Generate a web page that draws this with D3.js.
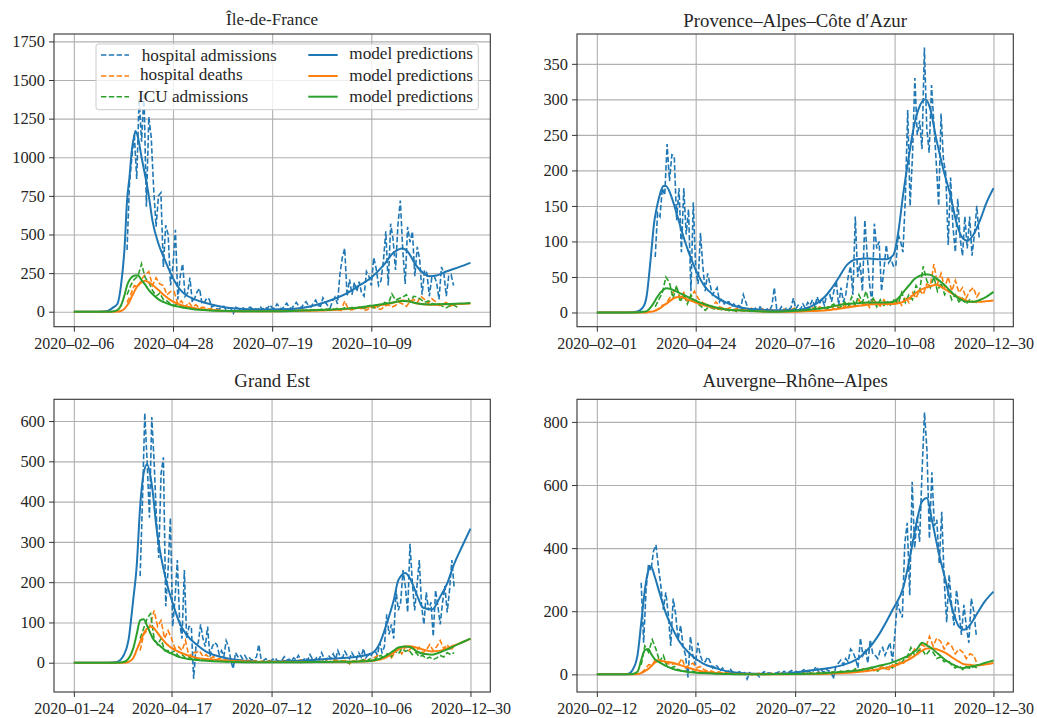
<!DOCTYPE html>
<html><head><meta charset="utf-8">
<script src="https://d3js.org/d3.v7.min.js"></script>
<style>
html,body{margin:0;padding:0;background:#fff}
svg{display:block}
text{font-family:"Liberation Serif",serif;fill:#262626}
</style></head><body><div id="c"></div>
<script>
// ---------- Île-de-France ----------
const idfTitle="Île-de-France";
const idfTicks=["2020-02-06","2020-04-28","2020-07-19","2020-10-09"];
const idfDomain=["2020-02-06","2020-12-30"];
const idfY=[-97,1798];
const idfYTicks=[0,250,500,750,1000,1250,1500,1750];
const idfObsStart="2020-03-21";
const idfAdm=[400,830,1000,1150,860,1380,1100,1420,680,1260,1130,800,550,750,770,290,560,500,170,300,530,80,230,310,100,120,220,60,90,130,150,50,60,90,80,30,
40,20,15,30,35,10,25,20,-10,30,20,15,25,10,25,30,15,20,10,35,15,30,20,45,25,20,50,30,15,35,55,30,20,40,60,35,25,50,65,40,30,55,75,40,35,90,60,40,25,70,95,50,
240,350,410,100,210,110,190,130,195,120,100,260,230,170,350,280,170,200,330,520,170,570,470,270,560,720,400,180,550,450,520,230,420,340,110,270,250,100,220,230,190,80,290,250,100,230,240,170];
const idfDeaths=[60,110,170,160,210,240,260,170,220,180,170,110,130,130,50,70,30,60,30,45,25,30,15,20,10,12,8,5,8,4,6,3,5,4,3,5,2,4,6,3,5,4,6,3,7,5,8,4,9,6,5,10,7,12,6,15,8,14,10,8,70,15,12,20,25,15,10,25,30,20,15,35,45,30,40,60,50,35,65,80,60,100,80,55,85,65,40,50,60,35,45,30];
const idfIcu=[110,170,210,230,310,220,190,140,100,120,80,70,50,40,50,30,25,30,15,20,15,12,10,8,10,8,5,6,4,5,3,5,2,4,3,5,4,6,3,5,4,6,8,5,9,7,10,6,12,8,14,10,16,12,18,14,20,15,22,18,25,18,28,20,30,22,26,35,25,30,45,60,50,115,75,85,95,110,65,100,95,80,60,70,55,45,50,35,25,40,45,30];
const idfModelDays=[0,20,28,32,36,39,42,44,46,48,50,51,53,56,59,62,65,70,75,80,85,90,100,110,120,140,160,180,209,226,236,245,256,264,272,276,283,289,294,300,308,319,328];
const idfModelAdm=[0,0,5,25,50,170,420,720,870,1050,1140,1170,1130,1000,880,750,590,440,340,250,175,125,80,55,35,18,15,18,65,120,170,215,300,380,410,390,300,250,230,235,260,290,317];
const idfModelDeaths=[0,0,0,0,1,5,20,40,65,100,130,145,170,190,200,190,175,140,105,75,55,40,22,12,7,3,3,5,10,18,25,33,45,58,72,70,55,48,45,45,48,50,53];
const idfModelIcu=[0,0,0,2,10,40,110,170,205,225,233,235,235,205,175,140,115,80,60,45,35,27,15,10,6,3,3,5,12,20,28,38,50,60,70,68,55,48,47,48,50,53,57];

// ---------- Provence–Alpes–Côte d′Azur ----------
const pacaTitle="Provence–Alpes–Côte d′Azur";
const pacaTicks=["2020-02-01","2020-04-24","2020-07-16","2020-10-08","2020-12-30"];
const pacaDomain=["2020-02-01","2020-12-30"];
const pacaY=[-20,392];
const pacaYTicks=[0,50,100,150,200,250,300,350];
const pacaObsStart="2020-03-21";
const pacaAdm=[78,140,135,175,165,237,185,222,220,130,175,85,175,110,145,30,155,60,40,112,65,30,55,40,25,30,35,15,20,12,15,15,8,12,8,10,8,25,15,5,4,
3,6,2,8,4,3,5,2,10,35,5,3,8,2,6,4,7,20,5,10,4,12,6,14,10,18,8,22,12,20,10,25,30,15,30,45,10,35,15,25,50,65,25,135,50,70,30,130,80,40,10,125,90,100,30,60,95,70,75,65,65,110,100,85,160,285,150,220,330,250,270,230,373,260,225,320,265,210,150,280,215,195,95,190,120,85,160,105,80,135,90,135,80,110,150,105];
const pacaDeaths=[3,5,10,12,20,28,35,20,28,15,22,30,20,15,12,10,8,15,8,6,5,7,4,6,3,5,4,6,2,3,5,2,4,3,2,3,5,2,4,6,3,2,5,4,7,3,8,5,6,10,5,8,12,8,14,6,12,18,10,15,7,20,12,9,18,11,14,12,18,10,22,14,28,20,32,25,40,38,68,40,55,35,50,30,45,28,35,20,30,35,22,30];
const pacaIcu=[8,18,28,50,42,20,38,15,25,12,25,15,12,8,3,8,6,4,5,3,4,2,3,1,3,2,4,1,2,3,1,2,1,2,2,3,1,4,2,5,3,2,4,6,3,8,5,7,4,9,12,6,8,15,8,22,10,25,14,30,12,20,8,18,10,15,9,20,12,28,14,25,18,38,30,65,45,35,50,30,42,25,32,18,25,15,20,12,18,15,14];
const pacaModelDays=[0,25,33,39,42,44,46,48,50,52,54,56,58,62,66,70,75,80,85,90,100,110,120,130,150,165,179,193,202,210,218,227,235,243,249,253,257,262,266,270,276,280,285,291,297,302,307,311,316,322,327,333];
const pacaModelAdm=[0,0,1,8,25,55,90,125,145,160,172,178,178,166,145,122,95,72,53,38,22,13,7,5,3,3,8,25,46,67,75,76,75,75,81,112,164,220,260,286,300,286,244,201,164,126,105,101,109,131,154,175];
const pacaModelDeaths=[0,0,0,0,0,1,1,2,3,5,7,10,12,17,21,22,19,16,13,10,6,4,3,2,1,1,2,3,5,7,9,11,12,12,12,13,15,20,25,30,35,37,39,34,28,23,19,16,15,15,16,17];
const pacaModelIcu=[0,0,0,1,2,5,9,14,20,25,29,32,34,33,30,27,23,19,15,12,7,4,3,2,1,2,4,7,10,12,13,14,14,14,15,20,28,38,46,51,54,53,48,40,30,22,17,15,15,18,22,29];

// ---------- Grand Est ----------
const geTitle="Grand Est";
const geTicks=["2020-01-24","2020-04-17","2020-07-12","2020-10-06","2020-12-30"];
const geDomain=["2020-01-24","2020-12-30"];
const geY=[-72.7,654];
const geYTicks=[0,100,200,300,400,500,600];
const geObsStart="2020-03-21";
const geAdm=[215,400,620,500,360,610,500,360,260,470,510,140,230,360,90,160,255,100,60,230,60,90,90,-40,40,50,95,60,40,90,15,40,50,45,20,30,15,55,40,5,-15,25,15,20,10,18,8,12,6,10,14,
45,8,5,10,6,4,8,12,5,3,7,15,6,9,4,12,7,18,8,5,13,6,20,10,4,15,8,25,12,6,18,10,22,9,
30,15,12,28,18,10,25,15,8,25,14,35,12,20,15,25,30,18,50,25,40,120,70,95,60,180,130,150,230,190,125,295,200,130,190,255,140,95,175,130,150,65,180,140,95,150,190,125,180,255,185];
const geDeaths=[30,70,80,95,130,90,105,60,80,60,35,40,30,55,15,25,25,30,15,20,10,15,8,12,6,10,5,8,4,7,3,6,2,5,3,4,2,5,3,4,2,6,3,5,2,4,7,3,5,2,8,4,3,6,2,5,7,3,4,6,-3,5,3,2,6,10,4,12,18,8,15,22,12,25,35,22,40,30,42,28,38,24,32,45,30,40,55,35,45,30,42];
const geIcu=[60,85,110,122,60,45,60,30,30,25,30,15,20,12,15,8,12,6,10,5,7,4,6,3,5,2,4,3,5,2,3,4,2,3,1,3,2,4,1,3,2,3,1,4,2,3,1,2,4,1,3,2,5,2,3,1,4,2,5,3,-2,4,2,5,8,4,10,6,14,18,10,25,15,30,22,35,28,32,20,26,15,18,10,14,8,12,18,14,25,20,25];
const geModelDays=[0,30,37,43,47,51,54,57,60,63,66,68,71,74,80,86,91,97,106,114,126,137,152,160,189,217,246,256,263,269,275,279,285,289,295,300,308,315,321,326,335,341];
const geModelAdm=[0,0,2,19,56,155,238,387,470,493,461,420,337,279,197,139,98,69,44,27,15,8,4,2,4,9,16,23,48,97,155,205,223,209,168,137,132,164,197,238,296,333];
const geModelDeaths=[0,0,0,0,2,11,31,52,72,85,89,88,78,66,46,33,26,19,12,9,6,4,3,2,2,2,3,4,8,14,25,33,40,41,37,33,28,30,36,42,52,60];
const geModelIcu=[0,0,0,2,10,35,70,105,108,92,72,60,50,42,28,20,14,10,7,5,3,2,1,1,1,2,3,5,10,18,30,38,40,39,28,22,20,26,33,40,52,60];

// ---------- Auvergne–Rhône–Alpes ----------
const araTitle="Auvergne–Rhône–Alpes";
const araTicks=["2020-02-12","2020-05-02","2020-07-22","2020-10-11","2020-12-30"];
const araDomain=["2020-02-12","2020-12-30"];
const araY=[-56,871.6];
const araYTicks=[0,200,400,600,800];
const araObsStart="2020-03-19";
const araAdm=[290,100,270,350,330,390,410,340,280,205,260,190,90,240,190,110,155,90,60,-10,120,60,30,100,60,40,40,55,40,20,30,25,10,20,10,5,18,8,
3,5,8,0,5,-15,5,0,5,0,-8,3,8,3,5,2,3,
5,8,3,10,4,7,12,5,9,3,8,15,6,10,4,12,25,8,15,6,18,10,12,-15,25,35,45,30,50,40,80,70,50,20,115,60,80,35,110,65,60,50,75,85,60,80,100,40,130,230,200,180,415,480,250,610,400,500,420,640,830,710,430,640,470,490,350,515,300,165,315,220,155,267,200,125,220,150,100,240,200,125];
const araDeaths=[5,15,30,30,50,45,40,35,30,35,30,50,20,30,35,20,25,15,10,10,5,8,4,6,3,5,2,4,1,3,-2,2,3,1,2,4,1,2,3,1,4,2,3,1,5,2,4,3,6,2,5,3,7,4,8,6,10,5,14,8,18,10,20,12,15,25,18,15,30,22,40,35,50,60,80,70,95,85,120,90,115,105,80,100,90,65,80,70,50,65,60,30];
const araIcu=[30,90,70,110,80,40,60,25,20,25,15,10,10,5,10,6,4,7,3,5,2,4,1,3,2,1,3,0,2,1,2,0,1,2,0,1,2,1,0,2,1,3,1,2,4,2,3,1,5,3,6,4,8,5,10,7,12,9,18,11,15,10,25,12,10,22,18,28,20,35,30,45,55,85,60,75,80,60,75,70,50,55,40,45,30,20,28,15,25,18,25,20];
const araModelDays=[0,20,25,29,33,36,39,42,44,47,51,56,62,67,75,86,97,108,121,146,173,187,200,214,227,240,249,254,260,264,268,272,277,283,288,294,298,303,308,315,322];
const araModelAdm=[0,0,1,14,60,162,268,331,342,310,257,194,141,104,67,35,19,8,3,1,12,19,30,56,114,204,278,368,490,548,559,490,395,299,215,151,141,157,188,231,262];
const araModelDeaths=[0,0,0,0,1,4,10,18,25,37,43,40,36,30,20,9,4,2,1,0,1,2,4,8,15,26,38,48,64,75,82,83,78,68,55,40,32,30,28,31,36];
const araModelIcu=[0,0,0,1,8,45,77,80,65,48,38,27,17,12,7,4,2,1,0,1,2,4,8,14,25,38,52,62,80,100,92,82,65,45,33,22,20,24,28,36,44];

// ---------- legend ----------
const legendObs=["hospital admissions","hospital deaths","ICU admissions"];
const legendModel=["model predictions","model predictions","model predictions"];
const seriesColors=["#1f77b4","#ff7f0e","#2ca02c"];

const panels=[
 {title:idfTitle,tfs:17.1,tb:25,ticks:idfTicks,dom:idfDomain,y:idfY,yt:idfYTicks,start:idfObsStart,obs:[idfAdm,idfDeaths,idfIcu],days:idfModelDays,model:[idfModelAdm,idfModelDeaths,idfModelIcu]},
 {title:pacaTitle,tfs:18.8,tb:26.7,ticks:pacaTicks,dom:pacaDomain,y:pacaY,yt:pacaYTicks,start:pacaObsStart,obs:[pacaAdm,pacaDeaths,pacaIcu],days:pacaModelDays,model:[pacaModelAdm,pacaModelDeaths,pacaModelIcu]},
 {title:geTitle,tfs:18.8,tb:386.7,ticks:geTicks,dom:geDomain,y:geY,yt:geYTicks,start:geObsStart,obs:[geAdm,geDeaths,geIcu],days:geModelDays,model:[geModelAdm,geModelDeaths,geModelIcu]},
 {title:araTitle,tfs:18.8,tb:386.7,ticks:araTicks,dom:araDomain,y:araY,yt:araYTicks,start:araObsStart,obs:[araAdm,araDeaths,araIcu],days:araModelDays,model:[araModelAdm,araModelDeaths,araModelIcu]}
];
const cols=[[54,490.3],[577,1013.3]], rows=[[34,326.7],[399.3,692]];
const obsSteps=[2,3,3];
const parse=d3.utcParse("%Y-%m-%d");
const fmt=d=>d3.utcFormat("%Y-%m-%d")(d).replace(/-/g,"–");

const svg=d3.select("#c").append("svg").attr("width",1037).attr("height",718);
panels.forEach((p,k)=>{
  const [L,R]=cols[k%2],[T,B]=rows[k>>1];
  const d0=parse(p.dom[0]),d1=parse(p.dom[1]),span=(d1-d0)*0.05;
  const x=d3.scaleUtc().domain([new Date(+d0-span),new Date(+d1+span)]).range([L,R]);
  const y=d3.scaleLinear().domain(p.y).range([B,T]);
  const g=svg.append("g");
  const tv=p.ticks.map(parse);
  const gx=g.append("g").attr("transform",`translate(0,${B})`).call(d3.axisBottom(x).tickValues(tv).tickSize(-(B-T)).tickFormat(""));
  const gy=g.append("g").attr("transform",`translate(${L},0)`).call(d3.axisLeft(y).tickValues(p.yt).tickSize(-(R-L)).tickFormat(""));
  [gx,gy].forEach(a=>{a.select(".domain").remove();a.selectAll("line").attr("stroke","#b0b0b0").attr("stroke-width",1.1)});
  const clip="cp"+k;
  svg.append("clipPath").attr("id",clip).append("rect").attr("x",L).attr("y",T).attr("width",R-L).attr("height",B-T);
  const m=g.append("g").attr("clip-path",`url(#${clip})`);
  const start=parse(p.start);
  p.obs.forEach((vals,s)=>{
    const line=d3.line().x((v,i)=>x(d3.utcDay.offset(start,i*obsSteps[s]))).y(v=>y(v));
    m.append("path").datum(vals).attr("d",line).attr("fill","none").attr("stroke",seriesColors[s])
     .attr("stroke-width",1.6).attr("stroke-dasharray","5.4,2.4");
  });
  p.model.forEach((vals,s)=>{
    const line=d3.line().curve(d3.curveMonotoneX).x((v,i)=>x(d3.utcDay.offset(d0,p.days[i]))).y(v=>y(v));
    m.append("path").datum(vals).attr("d",line).attr("fill","none").attr("stroke",seriesColors[s]).attr("stroke-width",2);
  });
  const ax=g.append("g").attr("transform",`translate(0,${B})`).call(d3.axisBottom(x).tickValues(tv).tickSize(5).tickPadding(6).tickFormat(fmt));
  const ay=g.append("g").attr("transform",`translate(${L},0)`).call(d3.axisLeft(y).tickValues(p.yt).tickSize(5).tickPadding(4).tickFormat(d3.format("d")));
  [ax,ay].forEach(a=>{a.select(".domain").remove();a.selectAll("line").attr("stroke","#333").attr("stroke-width",1);});
  ax.selectAll("text").attr("font-size",16).attr("font-family","Liberation Serif").attr("fill","#262626");
  ay.selectAll("text").attr("font-size",16.4).attr("font-family","Liberation Serif").attr("fill","#262626");
  g.append("rect").attr("x",L).attr("y",T).attr("width",R-L).attr("height",B-T).attr("fill","none").attr("stroke","#333").attr("stroke-width",1.1);
  g.append("text").attr("x",(L+R)/2).attr("y",p.tb).attr("text-anchor","middle").attr("font-size",p.tfs).text(p.title);
});

const lg=svg.append("g");
lg.append("rect").attr("x",96).attr("y",44).attr("width",382.3).attr("height",65.7).attr("rx",2.5)
  .attr("fill","#fff").attr("fill-opacity",0.8).attr("stroke","#ccc").attr("stroke-width",1);
const handleY=[55,76,96.7];
const leftTextX=[141.7,140,138], leftBase=[61.3,80,102.3], rightBase=[58.7,81,101.7];
legendObs.forEach((t,i)=>{
  lg.append("line").attr("x1",101).attr("x2",129).attr("y1",handleY[i]).attr("y2",handleY[i]).attr("stroke",seriesColors[i]).attr("stroke-width",1.6).attr("stroke-dasharray","5.4,2.4");
  lg.append("text").attr("x",leftTextX[i]).attr("y",leftBase[i]).attr("font-size",17.2).text(t);
});
legendModel.forEach((t,i)=>{
  lg.append("line").attr("x1",308.3).attr("x2",337.7).attr("y1",handleY[i]).attr("y2",handleY[i]).attr("stroke",seriesColors[i]).attr("stroke-width",2);
  lg.append("text").attr("x",349.3).attr("y",rightBase[i]).attr("font-size",17.2).text(t);
});
</script></body></html>
